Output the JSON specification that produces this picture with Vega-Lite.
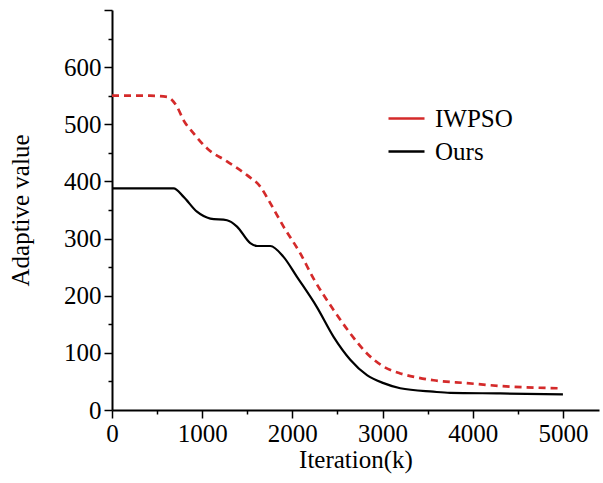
{
  "$schema": "https://vega.github.io/schema/vega-lite/v6.json",
  "width": 487,
  "height": 400,
  "autosize": {"type": "none"},
  "padding": {"left": 112, "top": 10, "right": 4, "bottom": 73},
  "background": "white",
  "config": {
    "view": {"stroke": null},
    "font": "Liberation Serif",
    "axis": {
      "domainColor": "black",
      "domainWidth": 2,
      "tickColor": "black",
      "tickWidth": 1.5,
      "labelColor": "black",
      "titleColor": "black",
      "labelFont": "Liberation Serif",
      "titleFont": "Liberation Serif",
      "labelFontSize": 25,
      "titleFontSize": 25,
      "titleFontWeight": "normal",
      "grid": false
    }
  },
  "data": {
    "values": [
      {"s": "IWPSO", "x": 0, "y": 550},
      {"s": "IWPSO", "x": 425, "y": 550},
      {"s": "IWPSO", "x": 610, "y": 548},
      {"s": "IWPSO", "x": 720, "y": 531},
      {"s": "IWPSO", "x": 794, "y": 507},
      {"s": "IWPSO", "x": 905, "y": 484},
      {"s": "IWPSO", "x": 1053, "y": 458},
      {"s": "IWPSO", "x": 1275, "y": 435},
      {"s": "IWPSO", "x": 1497, "y": 411},
      {"s": "IWPSO", "x": 1644, "y": 391},
      {"s": "IWPSO", "x": 1755, "y": 362},
      {"s": "IWPSO", "x": 1902, "y": 321},
      {"s": "IWPSO", "x": 2088, "y": 274},
      {"s": "IWPSO", "x": 2235, "y": 230},
      {"s": "IWPSO", "x": 2457, "y": 175},
      {"s": "IWPSO", "x": 2642, "y": 134},
      {"s": "IWPSO", "x": 2827, "y": 99},
      {"s": "IWPSO", "x": 3011, "y": 76},
      {"s": "IWPSO", "x": 3196, "y": 64},
      {"s": "IWPSO", "x": 3381, "y": 57},
      {"s": "IWPSO", "x": 3566, "y": 52},
      {"s": "IWPSO", "x": 3936, "y": 47},
      {"s": "IWPSO", "x": 4305, "y": 42},
      {"s": "IWPSO", "x": 4970, "y": 38},
      {"s": "Ours", "x": 0, "y": 388},
      {"s": "Ours", "x": 683, "y": 388},
      {"s": "Ours", "x": 794, "y": 373},
      {"s": "Ours", "x": 942, "y": 347},
      {"s": "Ours", "x": 1090, "y": 335},
      {"s": "Ours", "x": 1275, "y": 332},
      {"s": "Ours", "x": 1386, "y": 321},
      {"s": "Ours", "x": 1533, "y": 292},
      {"s": "Ours", "x": 1608, "y": 287},
      {"s": "Ours", "x": 1755, "y": 287},
      {"s": "Ours", "x": 1902, "y": 268},
      {"s": "Ours", "x": 2051, "y": 233},
      {"s": "Ours", "x": 2272, "y": 180},
      {"s": "Ours", "x": 2457, "y": 128},
      {"s": "Ours", "x": 2642, "y": 88},
      {"s": "Ours", "x": 2827, "y": 61},
      {"s": "Ours", "x": 3011, "y": 47},
      {"s": "Ours", "x": 3196, "y": 38},
      {"s": "Ours", "x": 3562, "y": 32},
      {"s": "Ours", "x": 3750, "y": 30},
      {"s": "Ours", "x": 4305, "y": 29},
      {"s": "Ours", "x": 5000, "y": 27.5}
    ]
  },
  "encoding": {
    "x": {
      "field": "x",
      "type": "quantitative",
      "scale": {"domain": [0, 5400], "nice": false, "zero": false},
      "axis": {
        "title": "Iteration(k)",
        "values": [0, 500, 1000, 1500, 2000, 2500, 3000, 3500, 4000, 4500, 5000],
        "labelExpr": "datum.value % 1000 === 0 ? datum.value : ''",
        "tickSize": {"condition": {"test": "datum.value % 1000 !== 0", "value": 4}, "value": 8},
        "labelPadding": 3,
        "titlePadding": 1,
        "labelFlush": false,
        "labelOverlap": false
      }
    },
    "y": {
      "field": "y",
      "type": "quantitative",
      "scale": {"domain": [0, 700], "nice": false},
      "axis": {
        "title": "Adaptive value",
        "values": [0, 50, 100, 150, 200, 250, 300, 350, 400, 450, 500, 550, 600, 650, 700],
        "labelExpr": "datum.value % 100 === 0 && datum.value < 700 ? datum.value : ''",
        "tickSize": {"condition": {"test": "datum.value % 100 !== 0", "value": 4}, "value": 8},
        "labelPadding": 3,
        "titlePadding": 30,
        "labelFlush": false,
        "labelOverlap": false
      }
    },
    "color": {
      "field": "s",
      "type": "nominal",
      "scale": {"domain": ["IWPSO", "Ours"], "range": ["#d42a2a", "#000000"]},
      "legend": {
        "title": null,
        "orient": "none",
        "legendX": 275,
        "legendY": 89,
        "padding": 0,
        "symbolType": "stroke",
        "symbolSize": 1296,
        "symbolStrokeWidth": 2.5,
        "labelFont": "Liberation Serif",
        "labelFontSize": 25,
        "labelColor": "black",
        "labelOffset": 9,
        "rowPadding": 0
      }
    }
  },
  "layer": [
    {
      "transform": [{"filter": "datum.s === 'Ours'"}],
      "mark": {"type": "line", "interpolate": "monotone", "strokeWidth": 2.2}
    },
    {
      "transform": [{"filter": "datum.s === 'IWPSO'"}],
      "mark": {"type": "line", "interpolate": "monotone", "strokeWidth": 2.7, "strokeDash": [7, 5], "strokeCap": "butt"}
    }
  ]
}
